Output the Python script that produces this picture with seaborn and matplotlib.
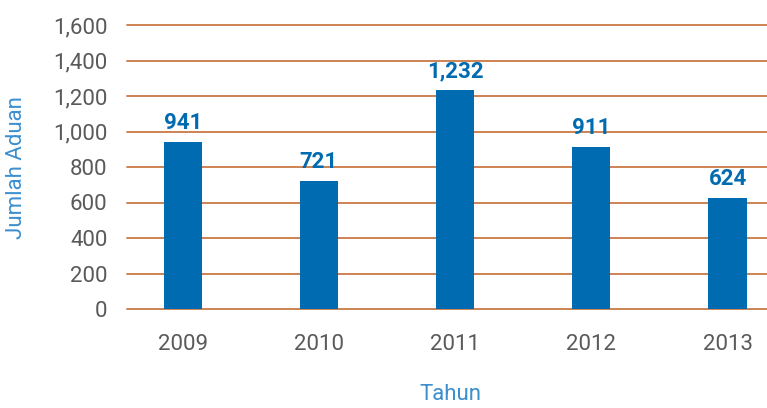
import matplotlib
matplotlib.use("Agg")
import matplotlib.pyplot as plt
import seaborn as sns
import pandas as pd

years = ["2009", "2010", "2011", "2012", "2013"]
complaints = [941, 721, 1232, 911, 624]
y_ticks = [0, 200, 400, 600, 800, 1000, 1200, 1400, 1600]

sns.set_theme(style="white")
plt.rcParams['font.family'] = ['Roboto', 'DejaVu Sans']

bar_color = "#006BB0"
grid_color = "#C97A45"
tick_color = "#5A5A5A"
label_color = "#3C8FCF"

df = pd.DataFrame({"Tahun": years, "Jumlah": complaints})

fig = plt.figure(figsize=(7.67, 4.08), dpi=100)
ax = fig.add_axes([127 / 767, 1 - 309 / 408, 1 - 127 / 767, (309 - 25) / 408])

for t in y_ticks:
    ax.axhline(t, color=grid_color, lw=1.3, zorder=0, clip_on=False)

sns.barplot(data=df, x="Tahun", y="Jumlah", color=bar_color, saturation=1,
            width=0.28, linewidth=0, ax=ax, zorder=2)

ax.set_xlim(-0.41, 4.29)
ax.set_ylim(0, 1600)
ax.set_yticks(y_ticks)
ax.set_yticklabels([f"{t:,}" for t in y_ticks])
for s in ax.spines.values():
    s.set_visible(False)
ax.tick_params(axis="y", length=0, pad=14, labelsize=16, labelcolor=tick_color)
ax.tick_params(axis="x", length=0, pad=18, labelsize=16, labelcolor=tick_color)

for i, v in enumerate(complaints):
    ax.text(i, v + 45, f"{v:,}", ha="center", va="bottom", fontsize=16,
            fontweight="bold", color=bar_color)

ax.set_xlabel("")
ax.set_ylabel("")
fig.text(17 / 767, 1 - 168 / 408, "Jumlah Aduan", rotation=90, ha="center",
         va="center", fontsize=16, color=label_color)
fig.text(450 / 767, 1 - 395 / 408, "Tahun", ha="center", va="center",
         fontsize=16, color=label_color)

fig.savefig("out.png", dpi=100)
